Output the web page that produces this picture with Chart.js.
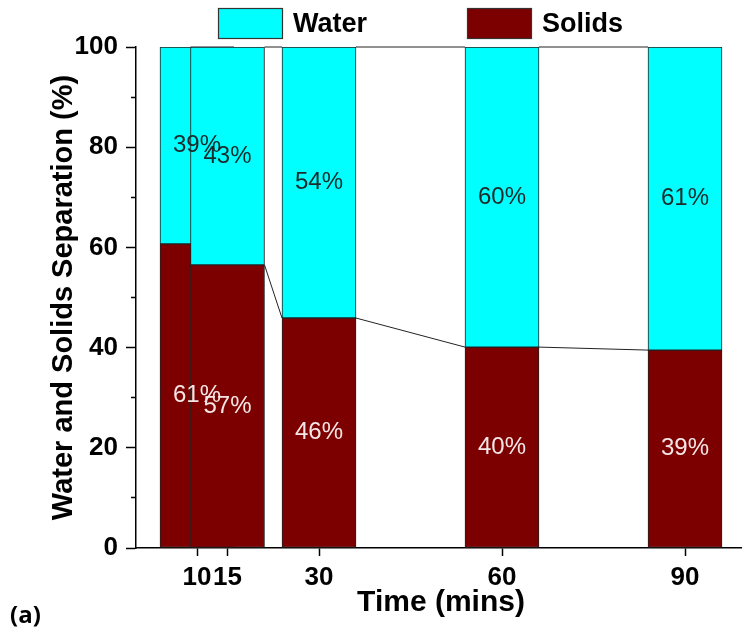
<!DOCTYPE html>
<html>
<head>
<meta charset="utf-8">
<script src="https://cdn.jsdelivr.net/npm/chart.js@4"></script>
<style>
  html, body { margin: 0; padding: 0; background: #fff; overflow: hidden; width: 742px; height: 627px; }
  #wrap { position: relative; width: 752px; height: 627px; }
  #c { display: block; }
  #panel { position: absolute; left: 10px; top: 597px; font: bold 24px "Open Sans", sans-serif; color: #000; white-space: nowrap; }
</style>
</head>
<body>
<div id="wrap">
  <canvas id="c" width="752" height="627"></canvas>
  <div id="panel">(a)</div>
</div>
<script>
// ---- data ----
const times = [10, 15, 30, 60, 90];
const solids = [60.7, 56.5, 45.9, 40.1, 39.5];
const water = [39.3, 43.5, 54.1, 59.9, 60.5];
const waterLabels = ['39%', '43%', '54%', '60%', '61%'];
const solidsLabels = ['61%', '57%', '46%', '40%', '39%'];
const xTicks = [10, 15, 30, 60, 90];
const yTicks = [0, 20, 40, 60, 80, 100];
const seriesNames = ['Water', 'Solids'];

const FONT = '"Liberation Sans", Arial, sans-serif';
const CYAN = '#00FFFF';
const WINE = '#7D0000';
const EDGE = '#222222';

// connector lines between neighbouring bar tops (drawn behind the bars)
const connectorPlugin = {
  id: 'connectors',
  beforeDatasetsDraw(chart) {
    const ctx = chart.ctx;
    ctx.save();
    ctx.strokeStyle = EDGE;
    ctx.lineWidth = 1;
    chart.data.datasets.forEach((ds, i) => {
      const els = chart.getDatasetMeta(i).data;
      for (let j = 0; j < els.length - 1; j++) {
        const a = els[j], b = els[j + 1];
        ctx.beginPath();
        ctx.moveTo(a.x + a.width / 2, a.y);
        ctx.lineTo(b.x - b.width / 2, b.y);
        ctx.stroke();
      }
    });
    ctx.restore();
  }
};

// percentage labels in the middle of each segment
const segmentLabelPlugin = {
  id: 'segmentLabels',
  afterDatasetsDraw(chart) {
    const ctx = chart.ctx;
    ctx.save();
    ctx.font = '24px ' + FONT;
    ctx.textAlign = 'center';
    ctx.textBaseline = 'middle';
    chart.data.datasets.forEach((ds, i) => {
      const els = chart.getDatasetMeta(i).data;
      ctx.fillStyle = ds.labelColor;
      els.forEach((el, j) => {
        ctx.fillText(ds.segmentLabels[j], el.x, (el.y + el.base) / 2);
      });
    });
    ctx.restore();
  }
};

// legend with boxes and bold names above the plot
const boxLegendPlugin = {
  id: 'boxLegend',
  afterDraw(chart, args, opts) {
    const ctx = chart.ctx;
    ctx.save();
    ctx.font = 'bold 27px ' + FONT;
    ctx.textAlign = 'left';
    ctx.textBaseline = 'middle';
    chart.data.datasets.forEach((ds, i) => {
      const x = opts.x + i * opts.step;
      ctx.fillStyle = ds.backgroundColor;
      ctx.fillRect(x, opts.y, opts.boxWidth, opts.boxHeight);
      ctx.strokeStyle = '#333';
      ctx.lineWidth = 1.2;
      ctx.strokeRect(x + 0.5, opts.y + 0.5, opts.boxWidth - 1, opts.boxHeight - 1);
      ctx.fillStyle = '#000';
      ctx.fillText(ds.label, x + opts.boxWidth + opts.gap, opts.y + opts.boxHeight / 2 + 1);
    });
    ctx.restore();
  }
};

new Chart(document.getElementById('c'), {
  type: 'bar',
  data: {
    datasets: [
      {
        label: seriesNames[0],
        data: times.map((t, i) => ({ x: t, y: [solids[i], solids[i] + water[i]] })),
        backgroundColor: CYAN,
        borderColor: EDGE,
        borderWidth: 1,
        borderSkipped: false,
        segmentLabels: waterLabels,
        labelColor: '#1b2a2a'
      },
      {
        label: seriesNames[1],
        data: times.map((t, i) => ({ x: t, y: solids[i] })),
        backgroundColor: WINE,
        borderColor: EDGE,
        borderWidth: 1,
        borderSkipped: false,
        segmentLabels: solidsLabels,
        labelColor: '#f4e6e6'
      }
    ]
  },
  options: {
    responsive: false,
    animation: false,
    events: [],
    grouped: false,
    barThickness: 74,
    layout: { padding: { top: 47, right: 6, bottom: 0, left: 0 } },
    plugins: {
      legend: { display: false },
      tooltip: { enabled: false },
      boxLegend: { x: 218, y: 8, step: 249, boxWidth: 65, boxHeight: 31, gap: 10 }
    },
    scales: {
      x: {
        type: 'linear',
        min: 0,
        max: 100,
        offset: false,
        afterBuildTicks: s => { s.ticks = xTicks.map(v => ({ value: v })); },
        afterFit: s => { s.height = 79; },
        ticks: {
          autoSkip: false,
          maxRotation: 0,
          padding: 6,
          color: '#000',
          font: { family: FONT, size: 26, weight: 'bold' },
          callback: v => String(v)
        },
        grid: { offset: false, drawOnChartArea: false, drawTicks: true, tickLength: 8, tickWidth: 1.5, tickColor: '#000' },
        border: { display: true, color: '#000', width: 1.5 },
        title: {
          display: true,
          text: 'Time (mins)',
          color: '#000',
          font: { family: FONT, size: 30, weight: 'bold' },
          padding: { top: 0, bottom: 6 }
        }
      },
      y: {
        min: 0,
        max: 100,
        afterFit: s => { s.width = 136; },
        ticks: {
          stepSize: 10,
          padding: 8,
          color: '#000',
          font: { family: FONT, size: 26, weight: 'bold' },
          callback: v => (yTicks.includes(v) ? String(v) : '')
        },
        grid: {
          drawOnChartArea: false,
          drawTicks: true,
          tickLength: 10,
          tickWidth: 1.5,
          tickColor: '#000',
          tickBorderDash: c => (c.tick && !yTicks.includes(c.tick.value)) ? [0, 5, 20, 0] : []
        },
        border: { display: true, color: '#000', width: 1.5 },
        title: {
          display: true,
          text: 'Water and Solids Separation (%)',
          color: '#000',
          font: { family: FONT, size: 29, weight: 'bold' },
          padding: { top: 47, bottom: 0 }
        }
      }
    }
  },
  plugins: [connectorPlugin, segmentLabelPlugin, boxLegendPlugin]
});
</script>
</body>
</html>
